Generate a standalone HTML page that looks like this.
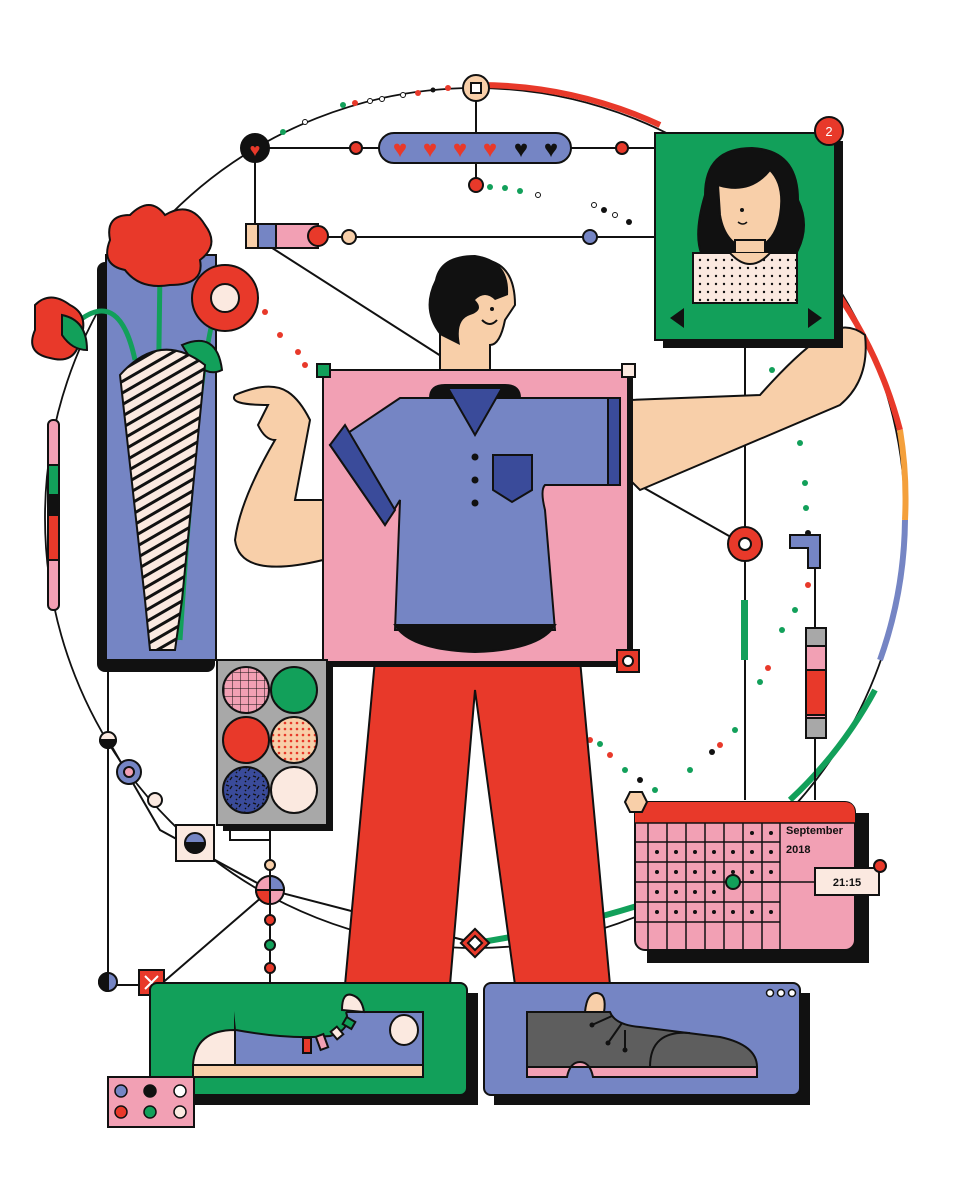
<!DOCTYPE html>
<html><head><meta charset="utf-8"><style>html,body{margin:0;padding:0;background:#fff}svg{display:block}</style></head>
<body>
<svg width="960" height="1200" viewBox="0 0 960 1200" xmlns="http://www.w3.org/2000/svg" font-family="Liberation Sans, sans-serif">
<defs>
<pattern id="dots" width="8" height="8" patternUnits="userSpaceOnUse"><rect width="8" height="8" fill="#fbe9e0"/><circle cx="4" cy="4" r="1.2" fill="#111"/></pattern>
<pattern id="stripes" width="10" height="10" patternUnits="userSpaceOnUse" patternTransform="rotate(-30)"><rect width="10" height="10" fill="#fbe9e0"/><rect width="10" height="3" fill="#111"/></pattern>
<pattern id="grid" width="8" height="8" patternUnits="userSpaceOnUse"><rect width="8" height="8" fill="#f2a0b4"/><path d="M0 0H8M0 0V8" stroke="#111" stroke-width="1"/></pattern>
<pattern id="rdots" width="6" height="6" patternUnits="userSpaceOnUse"><rect width="6" height="6" fill="#f8cfa9"/><circle cx="3" cy="3" r="1.3" fill="#e8392a"/></pattern>
<pattern id="speck" width="9" height="9" patternUnits="userSpaceOnUse"><rect width="9" height="9" fill="#3a4b9a"/><path d="M1 2l3 1M5 6l2-3M2 7l1 1" stroke="#111" stroke-width="1.3"/></pattern>
</defs>
<g stroke="#111" stroke-width="2" fill="none">
<circle cx="475" cy="518" r="430" stroke-width="1.8"/>
<path d="M478 85 A430 430 0 0 1 660 125" stroke="#e8392a" stroke-width="6"/>
<path d="M835 290 A430 430 0 0 1 900 430" stroke="#e8392a" stroke-width="6"/>
<path d="M900 430 A430 430 0 0 1 905 520" stroke="#f4a03c" stroke-width="6"/>
<path d="M905 520 A430 430 0 0 1 880 660" stroke="#7585c4" stroke-width="6"/>
<path d="M875 690 A430 430 0 0 1 790 800" stroke="#12a05a" stroke-width="6"/>
<path d="M475 943 Q560 930 640 905" stroke="#12a05a" stroke-width="6"/>
<path d="M255 148 H655 M255 148 V232 M255 237 H655 M476 88 V185 M745 340 V800 M815 560 V800 M270 830 V985"/>
<path d="M255 237 L455 365 M630 480 L745 545 M108 660 V985 M108 985 H150 M108 740 L160 830 L270 890 L475 943 M160 985 L270 890"/>
<path d="M230 825 V840 H270"/>
</g>
<rect x="97" y="262" width="118" height="410" rx="8" fill="#111"/>
<rect x="106" y="255" width="110" height="405" fill="#7585c4" stroke="#111" stroke-width="2"/>
<g stroke="#111" stroke-width="2">
<path d="M160 270 L155 640 M80 320 Q120 290 135 360 M220 300 Q200 330 180 640" fill="none" stroke="#12a05a" stroke-width="5"/>
<path d="M130 215 q20-20 35 0 q25-15 40 10 q15 20-5 35 q5 25-30 25 q-30 5-45-15 q-25-5-15-30 q-5-25 20-25z" fill="#e8392a"/>
<circle cx="225" cy="298" r="33" fill="#e8392a"/><circle cx="225" cy="298" r="14" fill="#fbe9e0"/>
<path d="M35 305 q15-15 35 0 q20 10 10 35 q-5 25-30 18 q-25-5-15-28z" fill="#e8392a"/>
<path d="M62 315 q25 5 25 35 q-15 0-25-15z" fill="#12a05a"/>
<path d="M182 345 q35-15 40 25 q-20 10-40-25z" fill="#12a05a"/>
<path d="M120 375 Q160 330 205 365 L182 600 L175 650 H150 L145 600z" fill="url(#stripes)"/>
</g>
<rect x="379" y="133" width="192" height="30" rx="15" fill="#7585c4" stroke="#111" stroke-width="2"/>
<g font-size="24" text-anchor="middle"><text x="400" y="157" fill="#e8392a">♥</text><text x="430" y="157" fill="#e8392a">♥</text><text x="460" y="157" fill="#e8392a">♥</text><text x="490" y="157" fill="#e8392a">♥</text><text x="521" y="157" fill="#111">♥</text><text x="551" y="157" fill="#111">♥</text></g>
<g stroke="#111" stroke-width="2">
<circle cx="255" cy="148" r="14" fill="#111"/><text x="255" y="156" font-size="18" fill="#e8392a" stroke="none" text-anchor="middle">♥</text>
<circle cx="476" cy="88" r="13" fill="#f8cfa9"/><rect x="471" y="83" width="10" height="10" fill="#fff"/>
<circle cx="356" cy="148" r="6" fill="#e8392a"/><circle cx="622" cy="148" r="6" fill="#e8392a"/>
<circle cx="476" cy="185" r="7" fill="#e8392a"/>
<rect x="246" y="224" width="72" height="24" fill="#f2a0b4"/><rect x="258" y="224" width="18" height="24" fill="#7585c4"/><rect x="246" y="224" width="12" height="24" fill="#f8cfa9"/>
<circle cx="318" cy="236" r="10" fill="#e8392a"/><circle cx="349" cy="237" r="7" fill="#f8cfa9"/><circle cx="590" cy="237" r="7" fill="#7585c4"/>
<circle cx="745" cy="544" r="17" fill="#e8392a"/><circle cx="745" cy="544" r="6" fill="#fff"/>
<path d="M790 535 h30 v33 h-12 v-20 h-18z" fill="#7585c4"/>
<rect x="741" y="600" width="7" height="60" fill="#12a05a" stroke="none"/>
<rect x="806" y="628" width="20" height="110" fill="#f2a0b4"/><rect x="806" y="670" width="20" height="45" fill="#e8392a"/><rect x="806" y="628" width="20" height="18" fill="#a8a8a8"/><rect x="806" y="718" width="20" height="20" fill="#a8a8a8"/>
<rect x="48" y="420" width="11" height="190" rx="5" fill="#f2a0b4"/><rect x="48" y="465" width="11" height="30" fill="#12a05a"/><rect x="48" y="495" width="11" height="20" fill="#111"/><rect x="48" y="515" width="11" height="45" fill="#e8392a"/>
<circle cx="108" cy="740" r="8" fill="#fbe9e0"/><path d="M100 740 a8 8 0 0 0 16 0z" fill="#111"/>
<circle cx="129" cy="772" r="12" fill="#7585c4"/><circle cx="129" cy="772" r="5" fill="#f2a0b4"/>
<circle cx="155" cy="800" r="7" fill="#fbe9e0"/>
<rect x="176" y="825" width="38" height="36" fill="#fbe9e0"/><circle cx="195" cy="843" r="10" fill="#7585c4"/><path d="M185 843 a10 10 0 0 0 20 0z" fill="#111"/>
<circle cx="270" cy="890" r="14" fill="#f2a0b4"/><path d="M270 890 V876 a14 14 0 0 1 14 14z" fill="#7585c4"/><path d="M270 890 V904 a14 14 0 0 1-14-14z" fill="#e8392a"/>
<circle cx="270" cy="865" r="5" fill="#f8cfa9"/><circle cx="270" cy="920" r="5" fill="#e8392a"/><circle cx="270" cy="945" r="5" fill="#12a05a"/><circle cx="270" cy="968" r="5" fill="#e8392a"/>
<circle cx="108" cy="982" r="9" fill="#7585c4"/><path d="M108 973 a9 9 0 0 0 0 18z" fill="#111"/>
<rect x="139" y="970" width="25" height="25" fill="#e8392a"/><path d="M145 976l13 13M158 976l-13 13" stroke="#fff"/>
<rect x="465" y="933" width="20" height="20" transform="rotate(45 475 943)" fill="#e8392a"/><rect x="470" y="938" width="10" height="10" transform="rotate(45 475 943)" fill="#fff"/>
</g>
<g fill="#12a05a">
<circle cx="283" cy="132" r="3"/><circle cx="343" cy="105" r="3"/><circle cx="490" cy="187" r="3"/><circle cx="505" cy="188" r="3"/><circle cx="520" cy="191" r="3"/><circle cx="772" cy="370" r="3"/><circle cx="800" cy="443" r="3"/><circle cx="805" cy="483" r="3"/><circle cx="806" cy="508" r="3"/><circle cx="795" cy="610" r="3"/><circle cx="782" cy="630" r="3"/><circle cx="760" cy="682" r="3"/><circle cx="735" cy="730" r="3"/><circle cx="690" cy="770" r="3"/><circle cx="655" cy="790" r="3"/><circle cx="600" cy="744" r="3"/><circle cx="625" cy="770" r="3"/>
</g>
<g fill="#e8392a"><circle cx="355" cy="103" r="3"/><circle cx="418" cy="93" r="3"/><circle cx="448" cy="88" r="3"/><circle cx="265" cy="312" r="3"/><circle cx="280" cy="335" r="3"/><circle cx="298" cy="352" r="3"/><circle cx="305" cy="365" r="3"/><circle cx="808" cy="585" r="3"/><circle cx="768" cy="668" r="3"/><circle cx="720" cy="745" r="3"/><circle cx="610" cy="755" r="3"/><circle cx="590" cy="740" r="3"/></g>
<g fill="#111"><circle cx="433" cy="90" r="2.5"/><circle cx="604" cy="210" r="3"/><circle cx="629" cy="222" r="3"/><circle cx="808" cy="533" r="3"/><circle cx="712" cy="752" r="3"/><circle cx="640" cy="780" r="3"/></g>
<g fill="#fff" stroke="#111"><circle cx="370" cy="101" r="2.5"/><circle cx="382" cy="99" r="2.5"/><circle cx="403" cy="95" r="2.5"/><circle cx="305" cy="122" r="2.5"/><circle cx="538" cy="195" r="2.5"/><circle cx="594" cy="205" r="2.5"/><circle cx="615" cy="215" r="2.5"/></g>
<g stroke="#111" stroke-width="2" fill="#f8cfa9">
<path d="M630 400 L760 395 Q800 350 825 335 Q845 320 865 335 Q870 380 840 405 L640 490 L630 480z"/>
<path d="M323 500 L295 500 L310 420 Q300 400 288 392 Q270 380 235 395 Q228 405 268 405 L258 425 Q265 440 275 440 Q240 500 235 540 Q240 580 323 560z"/>
<path d="M440 380 V330 Q430 270 470 260 Q515 255 515 305 L505 320 Q500 345 490 345 V380z"/>
</g>
<path d="M440 335 Q420 310 435 280 Q440 255 475 255 Q510 260 508 295 L495 300 Q485 290 475 300 Q485 310 470 315 Q455 320 460 345z" fill="#111"/>
<circle cx="492" cy="309" r="2" fill="#111"/><path d="M482 320 q8 8 15 0" stroke="#111" stroke-width="2" fill="none"/>
<path d="M375 660 L345 985 H450 L475 690 L515 985 H610 L580 660z" fill="#e8392a" stroke="#111" stroke-width="2"/>
<rect x="323" y="372" width="310" height="295" fill="#111"/>
<rect x="323" y="370" width="305" height="292" fill="#f2a0b4" stroke="#111" stroke-width="2"/>
<g stroke="#111" stroke-width="2">
<path d="M430 398 Q430 385 445 385 H505 Q520 385 520 398z" fill="#111"/>
<path d="M400 398 L620 398 V485 L545 485 Q540 490 545 510 L555 630 H395 L400 500 L385 525 L330 445z" fill="#7585c4"/>
<path d="M330 445 L345 425 L395 510 L385 525z" fill="#3a4b9a"/>
<rect x="608" y="398" width="12" height="87" fill="#3a4b9a"/>
<path d="M448 388 H502 L475 435z" fill="#3a4b9a"/>
<path d="M493 455 H532 V490 L512 502 L493 490z" fill="#3a4b9a"/>
<path d="M395 625 H555 Q540 650 475 652 Q410 650 395 625z" fill="#111"/>
<rect x="317" y="364" width="13" height="13" fill="#12a05a"/><rect x="622" y="364" width="13" height="13" fill="#fbe9e0"/>
<rect x="617" y="650" width="22" height="22" fill="#e8392a"/><circle cx="628" cy="661" r="5" fill="#fff"/>
</g>
<circle cx="475" cy="457" r="3.5" fill="#111"/><circle cx="475" cy="480" r="3.5" fill="#111"/><circle cx="475" cy="503" r="3.5" fill="#111"/>
<rect x="223" y="666" width="110" height="165" fill="#111"/>
<rect x="217" y="660" width="110" height="165" fill="#a8a8a8" stroke="#111" stroke-width="2"/>
<g stroke="#111" stroke-width="2"><circle cx="246" cy="690" r="23" fill="url(#grid)"/><circle cx="294" cy="690" r="23" fill="#12a05a"/><circle cx="246" cy="740" r="23" fill="#e8392a"/><circle cx="294" cy="740" r="23" fill="url(#rdots)"/><circle cx="246" cy="790" r="23" fill="url(#speck)"/><circle cx="294" cy="790" r="23" fill="#fbe9e0"/></g>
<rect x="663" y="141" width="180" height="207" fill="#111"/>
<rect x="655" y="133" width="180" height="207" fill="#12a05a" stroke="#111" stroke-width="2"/>
<g stroke="#111" stroke-width="2">
<path d="M705 195 Q705 148 752 148 Q798 150 798 200 Q810 225 798 250 L790 265 H708 Q690 245 705 195z" fill="#111"/>
<path d="M718 185 Q750 195 770 170 Q785 185 780 215 Q775 245 750 250 Q725 245 720 215z" fill="#f8cfa9"/>
<rect x="735" y="240" width="30" height="20" fill="#f8cfa9"/>
<rect x="693" y="253" width="104" height="50" fill="url(#dots)"/>
<path d="M730 253 Q750 275 770 253" fill="#f8cfa9"/>
</g>
<path d="M670 318 L684 308 V328z M822 318 L808 308 V328z" fill="#111"/>
<circle cx="742" cy="210" r="2" fill="#111"/><path d="M738 222 q5 4 9 0" stroke="#111" stroke-width="1.5" fill="none"/>
<circle cx="829" cy="131" r="14" fill="#e8392a" stroke="#111" stroke-width="2"/><text x="829" y="136" font-size="13" fill="#fff" text-anchor="middle">2</text>
<rect x="647" y="813" width="222" height="150" fill="#111"/>
<rect x="635" y="802" width="220" height="148" rx="10" fill="#f2a0b4" stroke="#111" stroke-width="2"/>
<path d="M635 813 q0-11 11-11 h198 q11 0 11 11 v10 h-220z" fill="#e8392a"/>
<g stroke="#111" stroke-width="1.5" fill="none">
<path d="M635 823 H855 M635 842 H780 M635 862 H780 M635 882 H780 M635 902 H780 M635 922 H780"/>
<path d="M648 823 V950 M667 823 V950 M686 823 V950 M705 823 V950 M724 823 V950 M743 823 V950 M762 823 V950 M780 823 V950"/>
<path d="M733 882 H815"/>
</g>
<g fill="#111">
<circle cx="752" cy="833" r="2"/><circle cx="771" cy="833" r="2"/>
<circle cx="657" cy="852" r="2"/><circle cx="676" cy="852" r="2"/><circle cx="695" cy="852" r="2"/><circle cx="714" cy="852" r="2"/><circle cx="733" cy="852" r="2"/><circle cx="752" cy="852" r="2"/><circle cx="771" cy="852" r="2"/>
<circle cx="657" cy="872" r="2"/><circle cx="676" cy="872" r="2"/><circle cx="695" cy="872" r="2"/><circle cx="714" cy="872" r="2"/><circle cx="733" cy="872" r="2"/><circle cx="752" cy="872" r="2"/><circle cx="771" cy="872" r="2"/>
<circle cx="657" cy="892" r="2"/><circle cx="676" cy="892" r="2"/><circle cx="695" cy="892" r="2"/><circle cx="714" cy="892" r="2"/>
<circle cx="657" cy="912" r="2"/><circle cx="676" cy="912" r="2"/><circle cx="695" cy="912" r="2"/><circle cx="714" cy="912" r="2"/><circle cx="733" cy="912" r="2"/><circle cx="752" cy="912" r="2"/><circle cx="771" cy="912" r="2"/>
</g>
<circle cx="733" cy="882" r="7" fill="#12a05a" stroke="#111" stroke-width="2"/>
<text x="786" y="834" font-size="11" font-weight="bold" fill="#111">September</text>
<text x="786" y="853" font-size="11" font-weight="bold" fill="#111">2018</text>
<rect x="815" y="868" width="64" height="27" fill="#fbe9e0" stroke="#111" stroke-width="2"/>
<text x="847" y="886" font-size="11" font-weight="bold" fill="#111" text-anchor="middle">21:15</text>
<circle cx="880" cy="866" r="6" fill="#e8392a" stroke="#111" stroke-width="2"/>
<path d="M625 802 l5-10 h12 l5 10 l-5 10 h-12z" fill="#f8cfa9" stroke="#111" stroke-width="2"/>
<rect x="160" y="993" width="318" height="112" fill="#111"/>
<rect x="150" y="983" width="317" height="112" rx="7" fill="#12a05a" stroke="#111" stroke-width="2"/>
<g stroke="#111" stroke-width="2">
<rect x="193" y="1065" width="230" height="12" fill="#f8cfa9"/>
<path d="M193 1065 Q195 1030 235 1030 V1065z" fill="#fbe9e0"/>
<rect x="235" y="1012" width="188" height="53" fill="#7585c4"/>
<path d="M234 1011 H346 Q352 1030 330 1036 Q290 1040 236 1030z" fill="#12a05a" stroke="none"/>
<path d="M236 1030 Q290 1040 330 1036 Q352 1030 346 1012" fill="none"/>
<path d="M342 1010 q0-18 10-15 q10 3 12 17z" fill="#fbe9e0"/>
<ellipse cx="404" cy="1030" rx="14" ry="15" fill="#fbe9e0"/>
<rect x="303" y="1038" width="8" height="15" fill="#e8392a"/><rect x="318" y="1035" width="8" height="14" fill="#f2a0b4" transform="rotate(-20 322 1042)"/><rect x="333" y="1028" width="8" height="10" fill="#fbe9e0" transform="rotate(-40 337 1033)"/><rect x="345" y="1018" width="8" height="10" fill="#12a05a" transform="rotate(-60 349 1023)"/>
</g>
<rect x="494" y="993" width="316" height="112" fill="#111"/>
<rect x="484" y="983" width="316" height="112" rx="7" fill="#7585c4" stroke="#111" stroke-width="2"/>
<g stroke="#111" stroke-width="2">
<path d="M585 1012 q2-20 12-19 q10 1 7 19z" fill="#f8cfa9"/>
<path d="M527 1012 H610 Q615 1025 640 1027 L720 1037 Q757 1045 757 1067 H527z" fill="#5e5e5e"/>
<path d="M650 1067 Q650 1030 690 1033" fill="none"/>
<path d="M527 1067 H757 V1077 H593 Q590 1062 580 1062 Q570 1062 567 1077 H527z" fill="#f2a0b4"/>
<path d="M612 1016 L592 1025 M622 1023 L608 1043 M625 1030 V1050"/>
</g>
<circle cx="592" cy="1025" r="2.5" fill="#111"/><circle cx="608" cy="1043" r="2.5" fill="#111"/><circle cx="625" cy="1050" r="2.5" fill="#111"/>
<g fill="#fff" stroke="#111" stroke-width="1.5"><circle cx="770" cy="993" r="3.5"/><circle cx="781" cy="993" r="3.5"/><circle cx="792" cy="993" r="3.5"/></g>
<rect x="108" y="1077" width="86" height="50" fill="#f2a0b4" stroke="#111" stroke-width="2"/>
<g stroke="#111" stroke-width="1.5"><circle cx="121" cy="1091" r="6" fill="#7585c4"/><circle cx="150" cy="1091" r="6" fill="#111"/><circle cx="180" cy="1091" r="6" fill="#fff"/><circle cx="121" cy="1112" r="6" fill="#e8392a"/><circle cx="150" cy="1112" r="6" fill="#12a05a"/><circle cx="180" cy="1112" r="6" fill="#fbe9e0"/></g>
</svg>
</body></html>
